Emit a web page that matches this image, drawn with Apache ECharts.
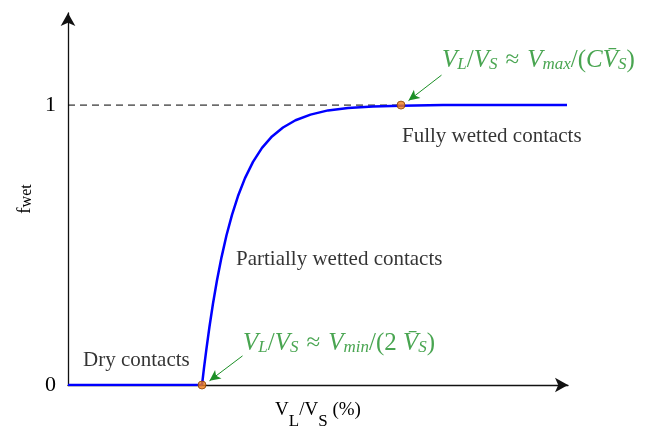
<!DOCTYPE html>
<html><head><meta charset="utf-8">
<script src="https://cdn.jsdelivr.net/npm/echarts@6/dist/echarts.min.js"></script>
<style>html,body{margin:0;padding:0;background:#fff}#c{width:654px;height:427px}</style>
</head><body><div id="c"></div>
<script>
// Data (x in % of axis length, f_wet)
const dryX = [0, 26.8];
const dryY = [0, 0];
const curveX = [26.8, 27.2, 27.7, 28.3, 29.0, 29.8, 30.7, 31.7, 32.8, 34.0, 35.4, 37.0, 38.8, 40.8, 43.0, 45.5, 48.5, 52.0, 56.0, 61.0, 66.6, 75.0, 99.8];
const curveY = [0, 0.061, 0.131, 0.209, 0.291, 0.374, 0.456, 0.535, 0.608, 0.675, 0.739, 0.797, 0.847, 0.888, 0.920, 0.946, 0.966, 0.981, 0.990, 0.995, 0.998, 1.0, 1.0];
const refX = [0, 66.6];
const refY = [1, 1];
const pointX = [26.8, 66.6];
const pointY = [0, 1];
const yTicks = [0, 1];
const notes = [
  {x: 66.8, y: 0.90, text: 'Fully wetted contacts', kind: 'plain'},
  {x: 33.6, y: 0.461, text: 'Partially wetted contacts', kind: 'plain'},
  {x: 3.0, y: 0.10, text: 'Dry contacts', kind: 'plain'},
  {x: 74.8, y: 1.165, text: '{i|V}{s|L}{n|/}{i|V}{s|S}{o|≈}{i|V}{s|max}{n|/(}{i|C}{i|V\u0304}{s|S}{n|)}', kind: 'math'},
  {x: 35.0, y: 0.153, text: '{i|V}{s|L}{n|/}{i|V}{s|S}{o|≈}{i|V}{s|min}{n|/(2 }{i|V\u0304}{s|S}{n|)}', kind: 'math'}
];
const arrows = [
  [[74.7, 1.107], [68.1, 1.016]],
  [[34.9, 0.104], [28.3, 0.015]]
];

const green = '#1c8f26';
const serif = '"Liberation Serif", "DejaVu Serif", serif';
const mathRich = {
  i: {fontFamily: serif, fontStyle: 'italic', fontSize: 25, color: green, lineHeight: 28, verticalAlign: 'bottom'},
  n: {fontFamily: serif, fontSize: 25, color: green, lineHeight: 28, verticalAlign: 'bottom'},
  o: {fontFamily: serif, fontSize: 25, color: green, lineHeight: 28, verticalAlign: 'bottom', padding: [0, 8, 0, 8]},
  s: {fontFamily: serif, fontStyle: 'italic', fontSize: 17, color: green, lineHeight: 15, verticalAlign: 'bottom'}
};
const plainRich = {
  t: {fontFamily: serif, fontSize: 21, color: '#000', lineHeight: 28, verticalAlign: 'bottom'}
};
const xNameRich = {
  t: {fontFamily: serif, fontSize: 19, color: '#000', lineHeight: 20},
  s: {fontFamily: serif, fontSize: 17, color: '#000', lineHeight: 18, padding: [24, 0, 0, 0]}
};
const yNameRich = {
  t: {fontFamily: serif, fontSize: 19, color: '#000', lineHeight: 20},
  s: {fontFamily: serif, fontSize: 16, color: '#000', lineHeight: 16, padding: [4, 0, 0, 0]}
};

const zip = (a, b) => a.map((v, i) => [v, b[i]]);

const chart = echarts.init(document.getElementById('c'), null, {renderer: 'canvas'});
chart.setOption({
  animation: false,
  backgroundColor: '#fff',
  grid: {left: 68, right: 86, top: 13, bottom: 42, containLabel: false, outerBoundsMode: 'none'},
  xAxis: {
    type: 'value', min: 0, max: 100,
    axisLine: {show: true, symbol: ['none', 'arrow'], symbolSize: [11, 13], symbolOffset: [0, 0], lineStyle: {color: '#111', width: 1.3}},
    axisTick: {show: false}, axisLabel: {show: false}, splitLine: {show: false},
    name: '{t|V}{s|L}{t|/V}{s|S}{t| (%)}', nameLocation: 'middle', nameGap: 15, nameMoveOverlap: false,
    nameTextStyle: {rich: xNameRich}
  },
  yAxis: {
    type: 'value', min: 0, max: 1.329, interval: 1,
    axisLine: {show: true, symbol: ['none', 'arrow'], symbolSize: [11, 13], symbolOffset: [0, 0], lineStyle: {color: '#111', width: 1.3}},
    axisTick: {show: false}, splitLine: {show: false},
    axisLabel: {margin: 12, fontFamily: serif, fontSize: 22, color: '#000',
      formatter: v => yTicks.indexOf(v) >= 0 ? String(v) : ''},
    name: '{t|f}{s|wet}', nameLocation: 'middle', nameGap: 33, nameMoveOverlap: false,
    nameTextStyle: {rich: yNameRich}
  },
  series: [
    {type: 'line', data: zip(refX, refY), symbol: 'none', z: 1,
      lineStyle: {color: '#000', width: 1, type: [7, 5]}},
    {type: 'line', data: zip(dryX, dryY), symbol: 'none', z: 2,
      lineStyle: {color: '#0000ff', width: 2.5}},
    {type: 'line', data: zip(curveX, curveY), symbol: 'none', z: 2,
      lineStyle: {color: '#0000ff', width: 2.5},
      markLine: {silent: true, symbol: ['none', 'arrow'], symbolSize: [8, 11],
        label: {show: false}, lineStyle: {color: green, width: 1, type: 'solid'},
        data: arrows.map(a => [{coord: a[0]}, {coord: a[1]}])}},
    {type: 'scatter', data: zip(pointX, pointY), symbolSize: 8, z: 5,
      itemStyle: {color: '#f07f1a', borderColor: '#8a4000', borderWidth: 1}},
    {type: 'scatter', symbolSize: 0, z: 6,
      data: notes.map(n => ({value: [n.x, n.y],
        label: {show: true, position: [0, 0], align: 'left', verticalAlign: 'middle', color: '#000',
          formatter: n.kind === 'math' ? n.text : '{t|' + n.text + '}',
          rich: n.kind === 'math' ? mathRich : plainRich}}))}
  ]
});
</script></body></html>
